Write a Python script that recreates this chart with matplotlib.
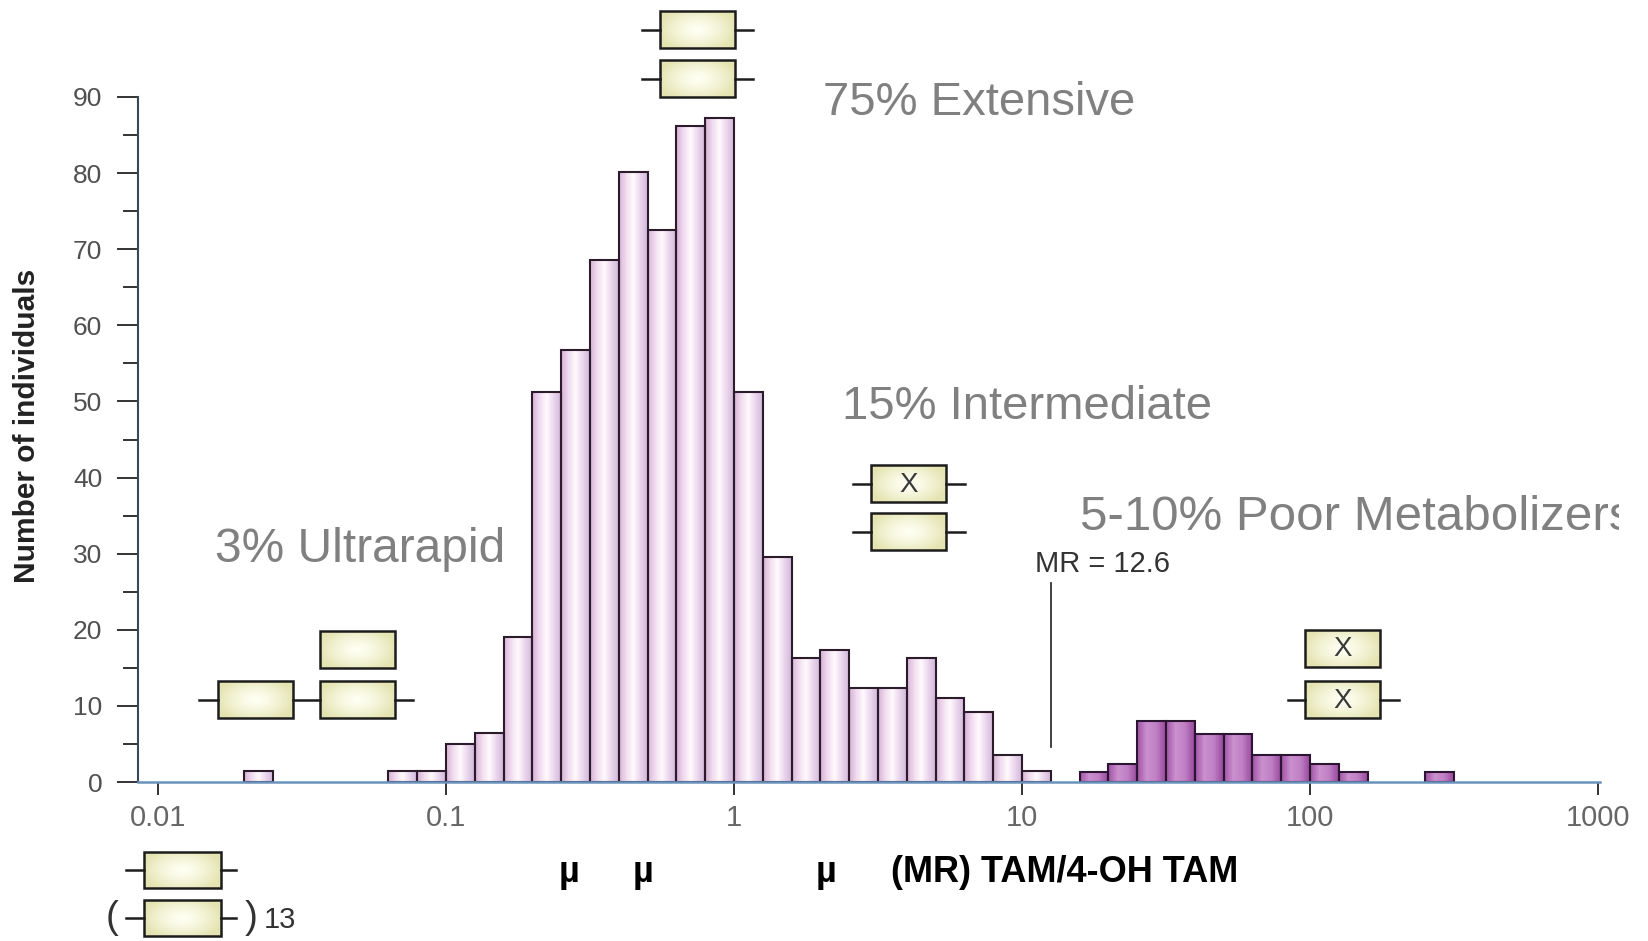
import numpy as np
import matplotlib
matplotlib.use("Agg")
import matplotlib.pyplot as plt
from matplotlib.colors import LinearSegmentedColormap, to_rgb
from matplotlib.patches import Rectangle
from matplotlib.ticker import NullLocator
from matplotlib.transforms import Bbox, TransformedBbox

plt.rcParams["font.family"] = ["Liberation Sans", "DejaVu Sans"]

# Histogram of the metabolic ratio, 0.1-decade bins on a log10 scale
bin_width = 0.1
em_bin_start = -1.7          # log10 of the first bin's lower edge (UM / EM / IM group)
em_counts = [1.5, 0, 0, 0, 0, 1.5, 1.5, 5.0, 6.4, 19.0, 51.2, 56.8, 68.6, 80.2,
             72.5, 86.2, 87.3, 51.2, 29.5, 16.3, 17.4, 12.3, 12.3, 16.3, 11.1,
             9.2, 3.5, 1.5]
pm_bin_start = 1.2           # poor metabolizers
pm_counts = [1.3, 2.4, 8.0, 8.0, 6.3, 6.3, 3.5, 3.5, 2.3, 1.3, 0, 0, 1.3]

x_ticks = [0.01, 0.1, 1, 10, 100, 1000]
x_tick_labels = ["0.01", "0.1", "1", "10", "100", "1000"]
y_ticks = list(range(0, 91, 10))
y_minor_ticks = list(range(5, 90, 10))
mr_cutoff = 12.6

W, H = 1648, 941
fig = plt.figure(figsize=(W / 100, H / 100), dpi=100)
fig.patch.set_facecolor("white")

ax = fig.add_axes([138 / W, 1 - 782 / H, (1600 - 138) / W, (782 - 97) / H])
ax.set_xscale("log")


def draw_bars(start, counts, colors, line_col):
    counts = np.asarray(counts, dtype=float)
    lo = start + bin_width * np.arange(len(counts))
    keep = counts > 0
    cmap = LinearSegmentedColormap.from_list("bar", colors)
    prof = np.linspace(0, 1, 40)[None, :]
    for l, h in zip(lo[keep], counts[keep]):
        xs = np.logspace(l, l + bin_width, 41)
        ax.pcolormesh(xs, [0, h], prof, cmap=cmap, shading="flat", zorder=2)
    left = 10 ** lo[keep]
    right = 10 ** (lo[keep] + bin_width)
    ax.bar(left, counts[keep], width=right - left, align="edge", fill=False,
           edgecolor=line_col, linewidth=1.5, zorder=2.2)


draw_bars(em_bin_start, em_counts,
          ["#D8B2D8", "#F0DCEE", "#FEF9FD", "#EAD6EC", "#D2B8DC"], "#2B1B2B")
draw_bars(pm_bin_start, pm_counts,
          ["#A155A7", "#CB90CE", "#BF7FC4", "#984A9D"], "#2B1530")

# cut-off between intermediate and poor metabolizers
ax.plot([mr_cutoff, mr_cutoff], [4.6, 26.2], color="#333333", lw=1.3, zorder=3)
ax.annotate("MR = 12.6", xy=(mr_cutoff, 28.6), xytext=(-16, 0),
            textcoords="offset pixels", ha="left", va="center",
            fontsize=21, color="#333333")

ax.set_xlim(10 ** -2.0694, 10 ** 3.007)
ax.set_ylim(0, 90)

for s in ("top", "right"):
    ax.spines[s].set_visible(False)
ax.spines["left"].set_color("#3A4858")
ax.spines["left"].set_linewidth(1.5)
ax.spines["bottom"].set_color("#6A93BC")
ax.spines["bottom"].set_linewidth(1.8)
ax.spines["bottom"].set_zorder(3)

ax.set_xticks(x_ticks)
ax.set_xticklabels(x_tick_labels)
ax.xaxis.set_minor_locator(NullLocator())
ax.set_yticks(y_ticks)
ax.set_yticks(y_minor_ticks, minor=True)
ax.tick_params(axis="y", which="major", length=15, width=1.4, color="#333333",
               pad=10.8, labelsize=19, labelcolor="#505050")
ax.tick_params(axis="y", which="minor", length=10.5, width=1.4, color="#333333")
ax.tick_params(axis="x", which="major", length=9.5, width=1.4, color="#333333",
               pad=6, labelsize=21, labelcolor="#666666")
ax.set_facecolor("none")

# overlay in pixel units for the allele diagrams and group labels
ov = fig.add_axes([0, 0, 1, 1], zorder=5)
ov.set_xlim(0, W)
ov.set_ylim(H, 0)
ov.set_autoscale_on(False)
ov.axis("off")
ov.patch.set_alpha(0)

INK = "#1C1C1C"


def gene_box(x0, y0, w=75, h=37, wl=0, wr=0, mark=None):
    yy, xx = np.mgrid[-1:1:40j, -1:1:80j]
    t = np.clip(np.hypot(xx * 0.95, yy * 0.8), 0, 1) ** 1.4
    c0 = np.array(to_rgb("#FFFFF3"))
    c1 = np.array(to_rgb("#E4E4B2"))
    img = c0 + (c1 - c0) * t[..., None]
    ov.imshow(img, extent=(x0, x0 + w, y0 + h, y0), aspect="auto",
              interpolation="bilinear", zorder=1)
    ov.add_patch(Rectangle((x0, y0), w, h, fill=False, ec=INK, lw=1.8, zorder=2))
    yc = y0 + h / 2
    if wl:
        ov.plot([x0 - wl, x0], [yc, yc], color=INK, lw=1.8, zorder=2)
    if wr:
        ov.plot([x0 + w, x0 + w + wr], [yc, yc], color=INK, lw=1.8, zorder=2)
    if mark:
        ov.text(x0 + w / 2, yc + 1, mark, ha="center", va="center",
                fontsize=20, color="#3A3A3A", zorder=3)


# extensive
gene_box(660, 11, wl=18, wr=18)
gene_box(660, 60, wl=18, wr=18)
# ultrarapid (duplication)
gene_box(218, 681, wl=19, wr=27)
gene_box(320, 681, wr=18)
gene_box(320, 631)
# intermediate
gene_box(871, 465, wl=18, wr=19, mark="X")
gene_box(871, 513, wl=18, wr=19)
# poor
gene_box(1305, 630, mark="X")
gene_box(1305, 681, wl=17, wr=19, mark="X")
# multi-copy allele
gene_box(144, 852, w=77, h=36, wl=18, wr=15)
gene_box(144, 900, w=77, h=36, wl=18, wr=15)
ov.text(112, 918, "(", ha="center", va="center", fontsize=28, color="#333333")
ov.text(251, 918, ")", ha="center", va="center", fontsize=28, color="#333333")
ov.text(264, 920, "13", ha="left", va="center", fontsize=21, color="#333333")

group_style = dict(color="#808080", ha="left", va="center", zorder=4)
ov.text(823, 103, "75% Extensive", fontsize=34, **group_style)
ov.text(842, 407, "15% Intermediate", fontsize=34, **group_style)
ov.text(215, 550, "3% Ultrarapid", fontsize=34.5, **group_style)
pm_txt = ov.text(1080, 517, "5-10% Poor Metabolizers", fontsize=35.5, **group_style)
pm_txt.set_clip_box(TransformedBbox(Bbox([[0, 0], [1619 / W, 1]]), fig.transFigure))
pm_txt.set_clip_on(True)

# axis titles
fig.text(27 / W, 1 - 426 / H, "Number of individuals", rotation=90,
         ha="center", va="center", fontsize=21.5, fontweight="bold", color="#222222")
for xm in (569, 643, 826):
    ov.text(xm, 872, "µ", ha="center", va="center", fontsize=26,
            fontweight="bold", color="#000000")
ov.text(891, 872, "(MR) TAM/4-OH TAM", ha="left", va="center", fontsize=26,
        fontweight="bold", color="#000000")

fig.savefig("out.png", dpi=100)
